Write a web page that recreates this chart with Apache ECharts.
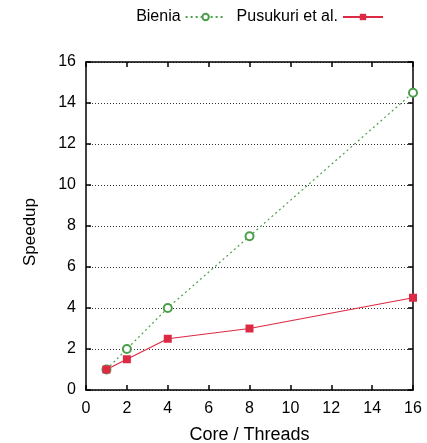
<!DOCTYPE html>
<html><head><meta charset="utf-8">
<script src="https://cdn.jsdelivr.net/npm/echarts@6/dist/echarts.min.js"></script>
<style>html,body{margin:0;padding:0;background:#fff}#c{width:427px;height:443px}</style>
</head><body><div id="c"></div>
<script>
const cores = [1, 2, 4, 8, 16];
const bienia = [1, 2, 4, 7.5, 14.5];
const pusukuri = [1, 1.5, 2.5, 3, 4.5];
const xTicks = [0, 2, 4, 6, 8, 10, 12, 14, 16];
const yTicks = [0, 2, 4, 6, 8, 10, 12, 14, 16];

const font = 'Liberation Sans, Arial, sans-serif';
const chart = echarts.init(document.getElementById('c'));
const axisCommon = {
  min: 0, max: 16, interval: 2,
  axisLine: { show: true, onZero: false, lineStyle: { color: '#000', width: 1.5 } },
  axisTick: { show: true, inside: true, length: 5, lineStyle: { color: '#000', width: 1.5 } },
};
chart.setOption({
  animation: false,
  grid: { left: 86, right: 14, top: 62, bottom: 53, outerBoundsMode: 'none', containLabel: false },
  legend: {
    top: 4, right: 38, align: 'right', itemGap: 10, itemWidth: 40, itemHeight: 8,
    textStyle: { fontFamily: font, fontSize: 16, color: '#000' },
    data: ['Bienia', 'Pusukuri et al.']
  },
  xAxis: [
    Object.assign({}, axisCommon, {
      type: 'value', position: 'bottom',
      name: 'Core / Threads', nameLocation: 'middle', nameGap: 36,
      nameTextStyle: { fontFamily: font, fontSize: 18, color: '#000' },
      axisLabel: { fontFamily: font, fontSize: 16, color: '#000', margin: 11,
        formatter: v => xTicks.includes(v) ? String(v) : '' },
      splitLine: { show: false }
    }),
    Object.assign({}, axisCommon, {
      type: 'value', position: 'top', axisLabel: { show: false }, splitLine: { show: false }
    })
  ],
  yAxis: [
    Object.assign({}, axisCommon, {
      type: 'value', position: 'left',
      name: 'Speedup', nameLocation: 'middle', nameGap: 47,
      nameTextStyle: { fontFamily: font, fontSize: 17, color: '#000', padding: [0, 0, 0, -12] },
      axisLabel: { fontFamily: font, fontSize: 16, color: '#000', margin: 10,
        formatter: v => yTicks.includes(v) ? String(v) : '' },
      splitLine: { show: true, lineStyle: { color: '#333', type: [1, 2], width: 1 } }
    }),
    Object.assign({}, axisCommon, {
      type: 'value', position: 'right', axisLabel: { show: false }, splitLine: { show: false }
    })
  ],
  series: [
    {
      name: 'Bienia', type: 'line',
      data: cores.map((c, i) => [c, bienia[i]]),
      symbol: 'emptyCircle', symbolSize: 8,
      itemStyle: { color: '#4aa04a', borderWidth: 1.2 },
      lineStyle: { color: '#4aa04a', width: 1.2, type: [2, 3] }
    },
    {
      name: 'Pusukuri et al.', type: 'line',
      data: cores.map((c, i) => [c, pusukuri[i]]),
      symbol: 'rect', symbolSize: 8,
      itemStyle: { color: '#dc2a44' },
      lineStyle: { color: '#dc2a44', width: 1.2 }
    }
  ]
});
</script></body></html>
